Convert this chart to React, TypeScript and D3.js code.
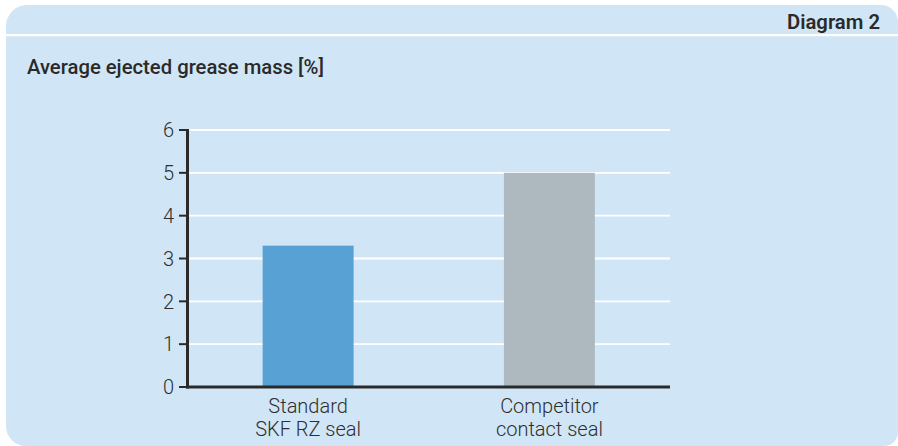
import React from "react";
import * as d3 from "d3";

const categories: string[][] = [
  ["Standard", "SKF RZ seal"],
  ["Competitor", "contact seal"],
];
const values: number[] = [3.3, 5.0];
const barColors: string[] = ["#58a1d4", "#adb8bf"];
const yTicks: number[] = [0, 1, 2, 3, 4, 5, 6];
const title = "Average ejected grease mass [%]";
const badge = "Diagram 2";

const W = 898;
const H = 446;
const plot = { left: 187.5, right: 670, top: 130, bottom: 387 };
const FONT = "Roboto, 'Open Sans', sans-serif";
const PANEL = "#d0e6f6";
const INK = "#2a2a2a";

function panelPath(x0: number, y0: number, x1: number, y1: number, rtl: number, rtr: number, rbr: number, rbl: number) {
  const p = d3.path();
  p.moveTo(x0 + rtl, y0);
  p.lineTo(x1 - rtr, y0);
  p.arcTo(x1, y0, x1, y0 + rtr, rtr);
  p.lineTo(x1, y1 - rbr);
  p.arcTo(x1, y1, x1 - rbr, y1, rbr);
  p.lineTo(x0 + rbl, y1);
  p.arcTo(x0, y1, x0, y1 - rbl, rbl);
  p.lineTo(x0, y0 + rtl);
  p.arcTo(x0, y0, x0 + rtl, y0, rtl);
  p.closePath();
  return p.toString();
}

export default function App() {
  const x = d3
    .scaleBand<number>()
    .domain(values.map((_, i) => i))
    .range([plot.left, plot.right])
    .paddingInner(0.623)
    .paddingOuter(0.3115);
  const y = d3.scaleLinear().domain([0, 6]).range([plot.bottom, plot.top]);

  return (
    <svg
      width={W}
      height={H}
      viewBox={`0 0 ${W} ${H}`}
      style={{ position: "absolute", left: 0, top: 0, display: "block" }}
    >
      <rect x={0} y={0} width={W} height={H} fill="#ffffff" />
      <path d={panelPath(6, 5, 898, 446, 21, 17, 14, 20)} fill={PANEL} />
      <rect x={6} y={34} width={892} height={2.2} fill="#ffffff" />

      <text
        x={880}
        y={29}
        textAnchor="end"
        fontFamily={FONT}
        fontWeight={600}
        fontSize={19.5}
        textLength={93}
        lengthAdjust="spacingAndGlyphs"
        fill={INK}
      >
        {badge}
      </text>
      <text
        x={27}
        y={73.5}
        fontFamily={FONT}
        fontWeight={500}
        fontSize={20}
        textLength={297}
        lengthAdjust="spacingAndGlyphs"
        fill={INK}
      >
        {title}
      </text>

      {/* gridlines */}
      {yTicks
        .filter((t) => t > 0)
        .map((t) => (
          <line
            key={"g" + t}
            x1={plot.left}
            x2={plot.right}
            y1={y(t)}
            y2={y(t)}
            stroke="#ffffff"
            strokeWidth={1.8}
          />
        ))}

      {/* bars */}
      {values.map((v, i) => (
        <rect
          key={"b" + i}
          x={x(i)}
          y={y(v)}
          width={x.bandwidth()}
          height={y(0) - y(v)}
          fill={barColors[i]}
        />
      ))}

      {/* y ticks and labels */}
      {yTicks.map((t) => (
        <g key={"t" + t}>
          <line x1={179} x2={plot.left} y1={y(t)} y2={y(t)} stroke={INK} strokeWidth={2} />
          <text
            x={174}
            y={y(t)}
            dy="0.36em"
            textAnchor="end"
            fontFamily={FONT}
            fontWeight={300}
            fontSize={20}
            fill="#2e2e2e"
          >
            {t}
          </text>
        </g>
      ))}

      {/* axes */}
      <line x1={plot.left} x2={plot.left} y1={plot.top - 1} y2={plot.bottom + 1.5} stroke={INK} strokeWidth={3} />
      <line x1={plot.left - 1.5} x2={plot.right} y1={plot.bottom} y2={plot.bottom} stroke={INK} strokeWidth={3} />

      {/* x labels */}
      {categories.map((lines, i) => (
        <text
          key={"c" + i}
          x={(x(i) ?? 0) + x.bandwidth() / 2}
          textAnchor="middle"
          fontFamily={FONT}
          fontWeight={300}
          fontSize={20}
          fill="#2e2e2e"
        >
          {lines.map((ln, j) => (
            <tspan key={j} x={(x(i) ?? 0) + x.bandwidth() / 2} y={413 + j * 23}>
              {ln}
            </tspan>
          ))}
        </text>
      ))}
    </svg>
  );
}
